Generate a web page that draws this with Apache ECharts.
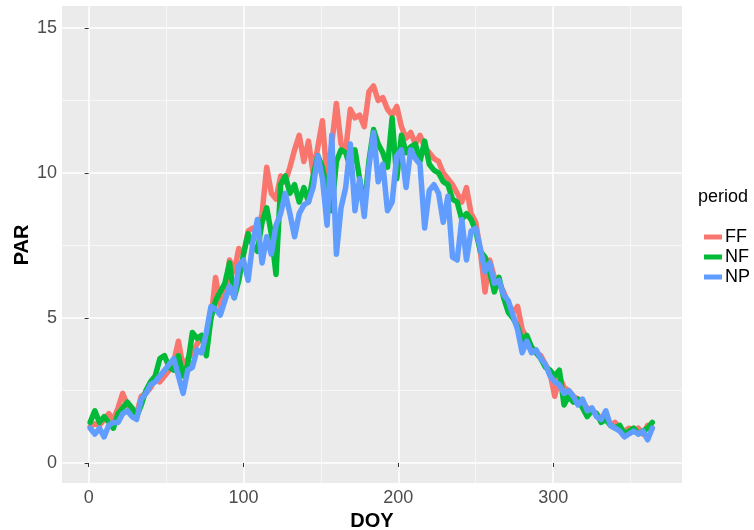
<!DOCTYPE html>
<html>
<head>
<meta charset="utf-8">
<script src="https://cdn.jsdelivr.net/npm/echarts@6/dist/echarts.min.js"></script>
<style>
html,body{margin:0;padding:0;background:#fff;}
#chart{width:754px;height:530px;}
</style>
</head>
<body>
<div id="chart"></div>
<script>
const days = [1,4,7,10,13,16,19,22,25,28,31,34,37,40,43,46,49,52,55,58,61,64,67,70,73,76,79,82,85,88,91,94,97,100,103,106,109,112,115,118,121,124,127,130,133,136,139,142,145,148,151,154,157,160,163,166,169,172,175,178,181,184,187,190,193,196,199,202,205,208,211,214,217,220,223,226,229,232,235,238,241,244,247,250,253,256,259,262,265,268,271,274,277,280,283,286,289,292,295,298,301,304,307,310,313,316,319,322,325,328,331,334,337,340,343,346,349,352,355,358,361,364];

const FF = [1.25,1.35,1.3,1.5,1.7,1.5,1.9,2.4,2.0,1.8,1.7,2.3,2.4,2.6,2.9,2.8,3.0,3.2,3.5,4.2,3.3,3.6,3.8,4.1,4.4,4.3,5.0,6.4,5.4,5.8,7.0,6.6,7.4,7.2,8.0,8.1,8.0,8.6,10.2,9.3,9.1,9.9,9.7,10.2,10.8,11.3,10.4,11.1,10.0,10.9,11.8,9.8,11.0,12.4,11.0,10.8,12.2,11.9,12.0,11.6,12.8,13.0,12.5,12.6,12.2,12.0,12.3,11.6,11.2,11.4,11.0,11.3,10.9,10.7,10.5,10.4,10.0,9.8,9.6,9.3,9.0,9.5,8.6,8.3,7.3,5.9,7.0,6.4,6.2,5.9,5.5,5.2,5.4,4.6,4.3,4.0,3.8,3.7,3.4,3.1,2.3,3.0,2.6,2.5,2.3,2.2,2.1,1.9,1.8,1.7,1.5,1.6,1.3,1.4,1.2,1.1,1.2,1.1,1.2,1.0,1.3,1.2];

const NF = [1.4,1.8,1.4,1.6,1.4,1.2,1.7,1.9,2.1,1.9,1.6,2.0,2.5,2.8,3.0,3.6,3.7,3.3,3.2,3.7,3.0,3.4,4.5,4.3,4.4,3.7,5.0,5.6,5.9,6.2,6.9,5.7,6.3,7.2,7.9,7.5,7.3,8.3,8.8,7.9,6.5,9.6,9.9,9.3,9.6,9.0,9.5,9.0,9.9,10.6,10.2,9.4,8.7,10.4,10.8,10.7,10.2,10.8,9.8,8.8,10.4,11.5,11.0,10.7,10.2,11.9,9.8,11.3,10.7,10.9,11.0,10.4,11.1,10.3,10.1,10.0,9.7,9.6,9.1,9.0,8.4,8.6,8.4,8.0,7.3,7.1,6.6,5.9,6.4,5.7,5.2,5.0,4.7,4.2,4.4,4.0,3.8,3.6,3.3,3.2,3.0,3.2,2.0,2.3,2.1,2.2,1.9,1.6,1.8,1.7,1.4,1.5,1.3,1.2,1.3,1.0,1.1,1.2,1.0,1.1,1.2,1.4];

const NP = [1.2,1.0,1.2,0.9,1.3,1.4,1.4,1.7,1.8,1.6,1.5,2.2,2.4,2.7,2.8,3.0,3.2,3.4,3.6,3.0,2.4,3.2,3.3,3.9,3.8,4.5,5.4,5.3,5.1,5.6,6.1,5.7,6.8,7.0,6.3,7.6,8.4,6.9,7.8,7.2,8.2,8.6,9.3,8.6,7.8,8.6,8.9,9.0,9.5,10.6,9.8,8.2,11.3,7.2,8.8,9.5,11.0,8.7,9.8,8.5,10.2,11.4,9.7,10.3,8.7,9.0,10.6,10.8,9.5,10.8,10.5,10.3,8.1,9.4,9.6,9.3,8.3,9.2,7.1,7.0,8.4,7.0,8.0,8.1,7.4,6.6,6.9,6.2,6.3,5.8,5.6,5.1,4.6,3.8,4.2,3.8,3.9,3.6,3.4,3.0,2.8,2.7,2.4,2.5,2.3,2.0,2.2,1.8,1.9,1.6,1.5,1.8,1.3,1.2,1.1,0.9,1.0,1.1,1.0,1.1,0.8,1.2];

const xTicks = [0, 100, 200, 300];
const xMinor = [50, 150, 250, 350];
const yTicks = [0, 5, 10, 15];
const yMinor = [2.5, 7.5, 12.5];
const seriesNames = ['FF', 'NF', 'NP'];
const seriesValues = [FF, NF, NP];
const colors = ['#F8766D', '#00BA38', '#619CFF'];

const chart = echarts.init(document.getElementById('chart'), null, {renderer: 'canvas'});
const FONT = 'Liberation Sans, Arial, sans-serif';
const labelFont = {fontFamily: FONT, fontSize: 18, color: '#4D4D4D'};
const xMin = -17.2, xMax = 383.2, yMin = -0.69, yMax = 15.76;

const option = {
  animation: false,
  backgroundColor: '#FFFFFF',
  grid: {left: 62, right: 72, top: 6, bottom: 47, show: true, backgroundColor: '#EBEBEB', borderWidth: 0, outerBoundsMode: 'none'},
  xAxis: [
    {type: 'value', min: xMin, max: xMax, gridIndex: 0,
     axisLine: {show: false},
     axisTick: {show: true, length: 4, lineStyle: {color: '#333333', width: 1}, customValues: xTicks},
     axisLabel: Object.assign({customValues: xTicks, margin: 6}, labelFont),
     splitLine: {show: true, lineStyle: {color: '#FFFFFF', width: 1.5}},
     name: 'DOY', nameLocation: 'middle', nameGap: 25,
     nameTextStyle: {fontFamily: FONT, fontSize: 20, fontWeight: 'bold', color: '#000000'}},
    {type: 'value', min: xMin, max: xMax, gridIndex: 0, position: 'bottom',
     axisLine: {show: false}, axisTick: {show: false, customValues: xMinor},
     axisLabel: {show: false, customValues: xMinor},
     splitLine: {show: true, lineStyle: {color: '#FAFAFA', width: 0.8}}}
  ],
  yAxis: [
    {type: 'value', min: yMin, max: yMax, gridIndex: 0,
     axisLine: {show: false},
     axisTick: {show: true, length: 4, lineStyle: {color: '#333333', width: 1}, customValues: yTicks},
     axisLabel: Object.assign({customValues: yTicks, margin: 5}, labelFont),
     splitLine: {show: true, lineStyle: {color: '#FFFFFF', width: 1.5}}},
    {type: 'value', min: yMin, max: yMax, gridIndex: 0, position: 'left',
     axisLine: {show: false}, axisTick: {show: false, customValues: yMinor},
     axisLabel: {show: false, customValues: yMinor},
     splitLine: {show: true, lineStyle: {color: '#FAFAFA', width: 0.8}}}
  ],
  legend: {
    orient: 'vertical', left: 699, top: 223, itemGap: 2,
    itemWidth: 18, itemHeight: 5, icon: 'rect',
    data: seriesNames,
    textStyle: {fontFamily: FONT, fontSize: 18, color: '#000000', padding: [0,0,0,-2]}
  },
  graphic: [
    {type: 'text', left: 698, top: 188,
     style: {text: 'period', fontFamily: FONT, fontSize: 18, fill: '#000000'}},
    {type: 'text', x: 22, y: 245, rotation: Math.PI / 2,
     style: {text: 'PAR', fontFamily: FONT, fontSize: 20, fontWeight: 'bold', fill: '#000000', align: 'center', verticalAlign: 'middle'}}
  ],
  series: seriesNames.map((name, i) => ({
    name: name, type: 'line', xAxisIndex: 0, yAxisIndex: 0,
    showSymbol: false, symbol: 'none',
    data: days.map((d, k) => [d, seriesValues[i][k]]),
    itemStyle: {color: colors[i]},
    lineStyle: {color: colors[i], width: 5.5, cap: 'round', join: 'round'},
    z: 2 + i
  }))
};
chart.setOption(option);
</script>
</body>
</html>
